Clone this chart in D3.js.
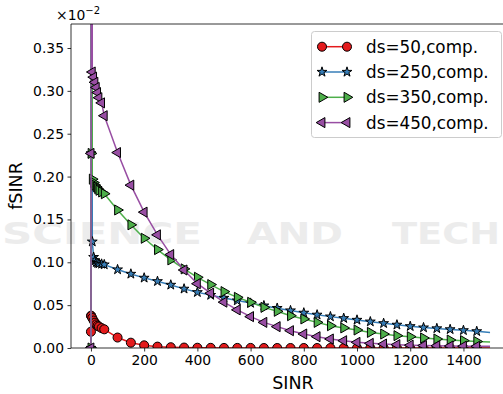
<!DOCTYPE html>
<html>
<head>
<meta charset="utf-8">
<script src="https://cdn.jsdelivr.net/npm/d3@7"></script>
<style>
    body { margin: 0; background: #fff; }
    svg { display: block; font-family: "DejaVu Sans", sans-serif; }
</style>
</head>
<body>
<svg id="chart" width="503" height="394"></svg>
<script>
// x values (SINR), shared by every series
let sinr = [0, 0.5, 1, 5, 10, 15, 20, 25, 30, 40, 50, 100, 150, 200, 250, 300, 350, 400,
    450, 500, 550, 600, 650, 700, 750, 800, 850, 900, 950, 1000, 1050, 1100, 1150, 1200,
    1250, 1300, 1350, 1400, 1450, 1500];

// fSINR values, shown in units of 1e-2
let ds50 = [0.019, 0.0377, 0.0372, 0.035, 0.032, 0.0295, 0.0275, 0.026, 0.025, 0.0232, 0.0218,
    0.0122, 0.0062, 0.0031, 0.0016, 0.0009, 0.0005, 0.0003, 0.0002, 0.0001, 0.0001, 0.0001,
    0, 0, 0, 0, 0, 0, 0, 0, 0, 0, 0, 0, 0, 0, 0, 0, 0, 0];
let ds250 = [0, 0.227, 1.6, 0.124, 0.106, 0.102, 0.100, 0.099, 0.0985, 0.098, 0.0973,
    0.0915, 0.0864, 0.0818, 0.0778, 0.0736, 0.069, 0.065, 0.0617, 0.0584, 0.0553, 0.0524,
    0.0494, 0.0465, 0.0437, 0.041, 0.0387, 0.0366, 0.0347, 0.0327, 0.0307, 0.0288, 0.027,
    0.0253, 0.0238, 0.0228, 0.0217, 0.0206, 0.0194, 0.0182];
let ds350 = [0, 0.227, 1.2, 0.197, 0.193, 0.19, 0.188, 0.186, 0.184, 0.182, 0.180,
    0.161, 0.1437, 0.128, 0.1148, 0.1028, 0.0923, 0.0825, 0.074, 0.0658, 0.0591, 0.0533,
    0.0474, 0.0428, 0.0377, 0.0339, 0.0299, 0.026, 0.0234, 0.021, 0.0182, 0.0163, 0.0144,
    0.0132, 0.0117, 0.0105, 0.0093, 0.0086, 0.0076, 0.007];
let ds450 = [0, 0.227, 2.0, 0.322, 0.316, 0.31, 0.304, 0.298, 0.292, 0.286, 0.271,
    0.228, 0.19, 0.1585, 0.132, 0.109, 0.091, 0.075, 0.064, 0.0535, 0.0445, 0.0366,
    0.0299, 0.0249, 0.0202, 0.0163, 0.0132, 0.0105, 0.0085, 0.0066, 0.0054, 0.0046, 0.0039,
    0.0033, 0.0029, 0.0026, 0.0023, 0.0021, 0.002, 0.0019];

let seriesNames = ['ds=50,comp.', 'ds=250,comp.', 'ds=350,comp.', 'ds=450,comp.'];
let seriesValues = [ds50, ds250, ds350, ds450];
let seriesColors = ['#e41a1c', '#377eb8', '#4daf4a', '#984ea3'];
let seriesMarkers = ['circle', 'star', 'right', 'left'];

let xTicks = [0, 200, 400, 600, 800, 1000, 1200, 1400];
let yTicks = [0, 0.05, 0.10, 0.15, 0.20, 0.25, 0.30, 0.35];

let margin = { top: 24, left: 71, bottom: 348, right: 510 };

let svg = d3.select('#chart');

// faint watermark row behind the figure
let wm = svg.append('g').attr('fill', '#ececec').style('font-weight', 'bold').attr('font-size', 31);
[['SCIENCE', 2, 200], ['AND', 247, 96], ['TECH', 392, 108]].forEach(w => {
    wm.append('text')
        .attr('x', w[1]).attr('y', 244)
        .attr('textLength', w[2]).attr('lengthAdjust', 'spacingAndGlyphs')
        .text(w[0]);
});

let x = d3.scaleLinear().domain([-75, 1575]).range([margin.left, margin.right]);
let y = d3.scaleLinear().domain([0, 0.378]).range([margin.bottom, margin.top]);

svg.append('clipPath').attr('id', 'plotclip')
    .append('rect')
    .attr('x', margin.left).attr('y', margin.top)
    .attr('width', margin.right - margin.left).attr('height', margin.bottom - margin.top);

function markerPath(kind) {
    if (kind === 'circle') return d3.symbol(d3.symbolCircle, 64)();
    if (kind === 'star') return d3.symbol(d3.symbolStar, 30)();
    return d3.symbol(d3.symbolTriangle, 44)();
}
function markerRotate(kind) {
    if (kind === 'right') return ' rotate(90)';
    if (kind === 'left') return ' rotate(-90)';
    return '';
}

let plot = svg.append('g').attr('clip-path', 'url(#plotclip)');
let line = d3.line().x(d => x(d[0])).y(d => y(d[1]));

seriesValues.forEach((vals, i) => {
    let pts = sinr.map((s, k) => [s, vals[k]]);
    let g = plot.append('g');
    g.append('path')
        .attr('d', line(pts))
        .attr('fill', 'none')
        .attr('stroke', seriesColors[i])
        .attr('stroke-width', 1.5)
        .attr('stroke-linejoin', 'round');
    // markers on every point but the final one
    g.selectAll('path.mk')
        .data(pts.slice(0, pts.length - 1))
        .enter().append('path')
        .attr('class', 'mk')
        .attr('d', markerPath(seriesMarkers[i]))
        .attr('transform', d => `translate(${x(d[0])},${y(d[1])})` + markerRotate(seriesMarkers[i]))
        .attr('fill', seriesColors[i])
        .attr('stroke', '#000')
        .attr('stroke-width', 1);
});

// axes
let xAxis = d3.axisBottom(x).tickValues(xTicks).tickSize(3.5).tickPadding(3.5).tickFormat(d3.format('d'));
let gx = svg.append('g').attr('transform', `translate(0,${margin.bottom})`).call(xAxis);
let yAxis = d3.axisLeft(y).tickValues(yTicks).tickSize(3.5).tickPadding(3.5).tickFormat(d3.format('.2f'));
let gy = svg.append('g').attr('transform', `translate(${margin.left},0)`).call(yAxis);

[gx, gy].forEach(g => {
    g.select('.domain').remove();
    g.selectAll('text').attr('font-size', 13.9).attr('fill', '#000').attr('font-family', 'DejaVu Sans');
    g.selectAll('line').attr('stroke', '#000').attr('stroke-width', 0.8);
});

// spines (right one falls outside the picture)
svg.append('path')
    .attr('d', `M${margin.left},${margin.bottom}V${margin.top}H${margin.right}V${margin.bottom}Z`)
    .attr('fill', 'none').attr('stroke', '#000').attr('stroke-width', 0.8);

// offset text
let off = svg.append('text').attr('x', 56).attr('y', 20).attr('font-size', 13.9).attr('fill', '#000');
off.append('tspan').text('×10');
off.append('tspan').attr('dy', -6).attr('font-size', 10).text('−2');

// axis labels
svg.append('text')
    .attr('x', (margin.left + 503) / 2 + 6).attr('y', 389)
    .attr('text-anchor', 'middle').attr('font-size', 17.5)
    .text('SINR');
svg.append('text')
    .attr('transform', 'translate(22,186) rotate(-90)')
    .attr('text-anchor', 'middle').attr('font-size', 17.5)
    .text('fSINR');

// legend
let lg = svg.append('g');
lg.append('rect')
    .attr('x', 311.5).attr('y', 31.5).attr('width', 190).attr('height', 106).attr('rx', 3)
    .attr('fill', '#fff').attr('fill-opacity', 0.8)
    .attr('stroke', '#cccccc').attr('stroke-width', 1);
seriesNames.forEach((name, i) => {
    let cy = 46.7 + i * 25.3;
    lg.append('line')
        .attr('x1', 322).attr('x2', 347).attr('y1', cy).attr('y2', cy)
        .attr('stroke', seriesColors[i]).attr('stroke-width', 1.5);
    [322, 347].forEach(px => {
        lg.append('path')
            .attr('d', markerPath(seriesMarkers[i]))
            .attr('transform', `translate(${px},${cy})` + markerRotate(seriesMarkers[i]))
            .attr('fill', seriesColors[i]).attr('stroke', '#000').attr('stroke-width', 1);
    });
    lg.append('text')
        .attr('x', 366).attr('y', cy + 6)
        .attr('font-size', 16.8).attr('fill', '#000')
        .text(name);
});
</script>
</body>
</html>
